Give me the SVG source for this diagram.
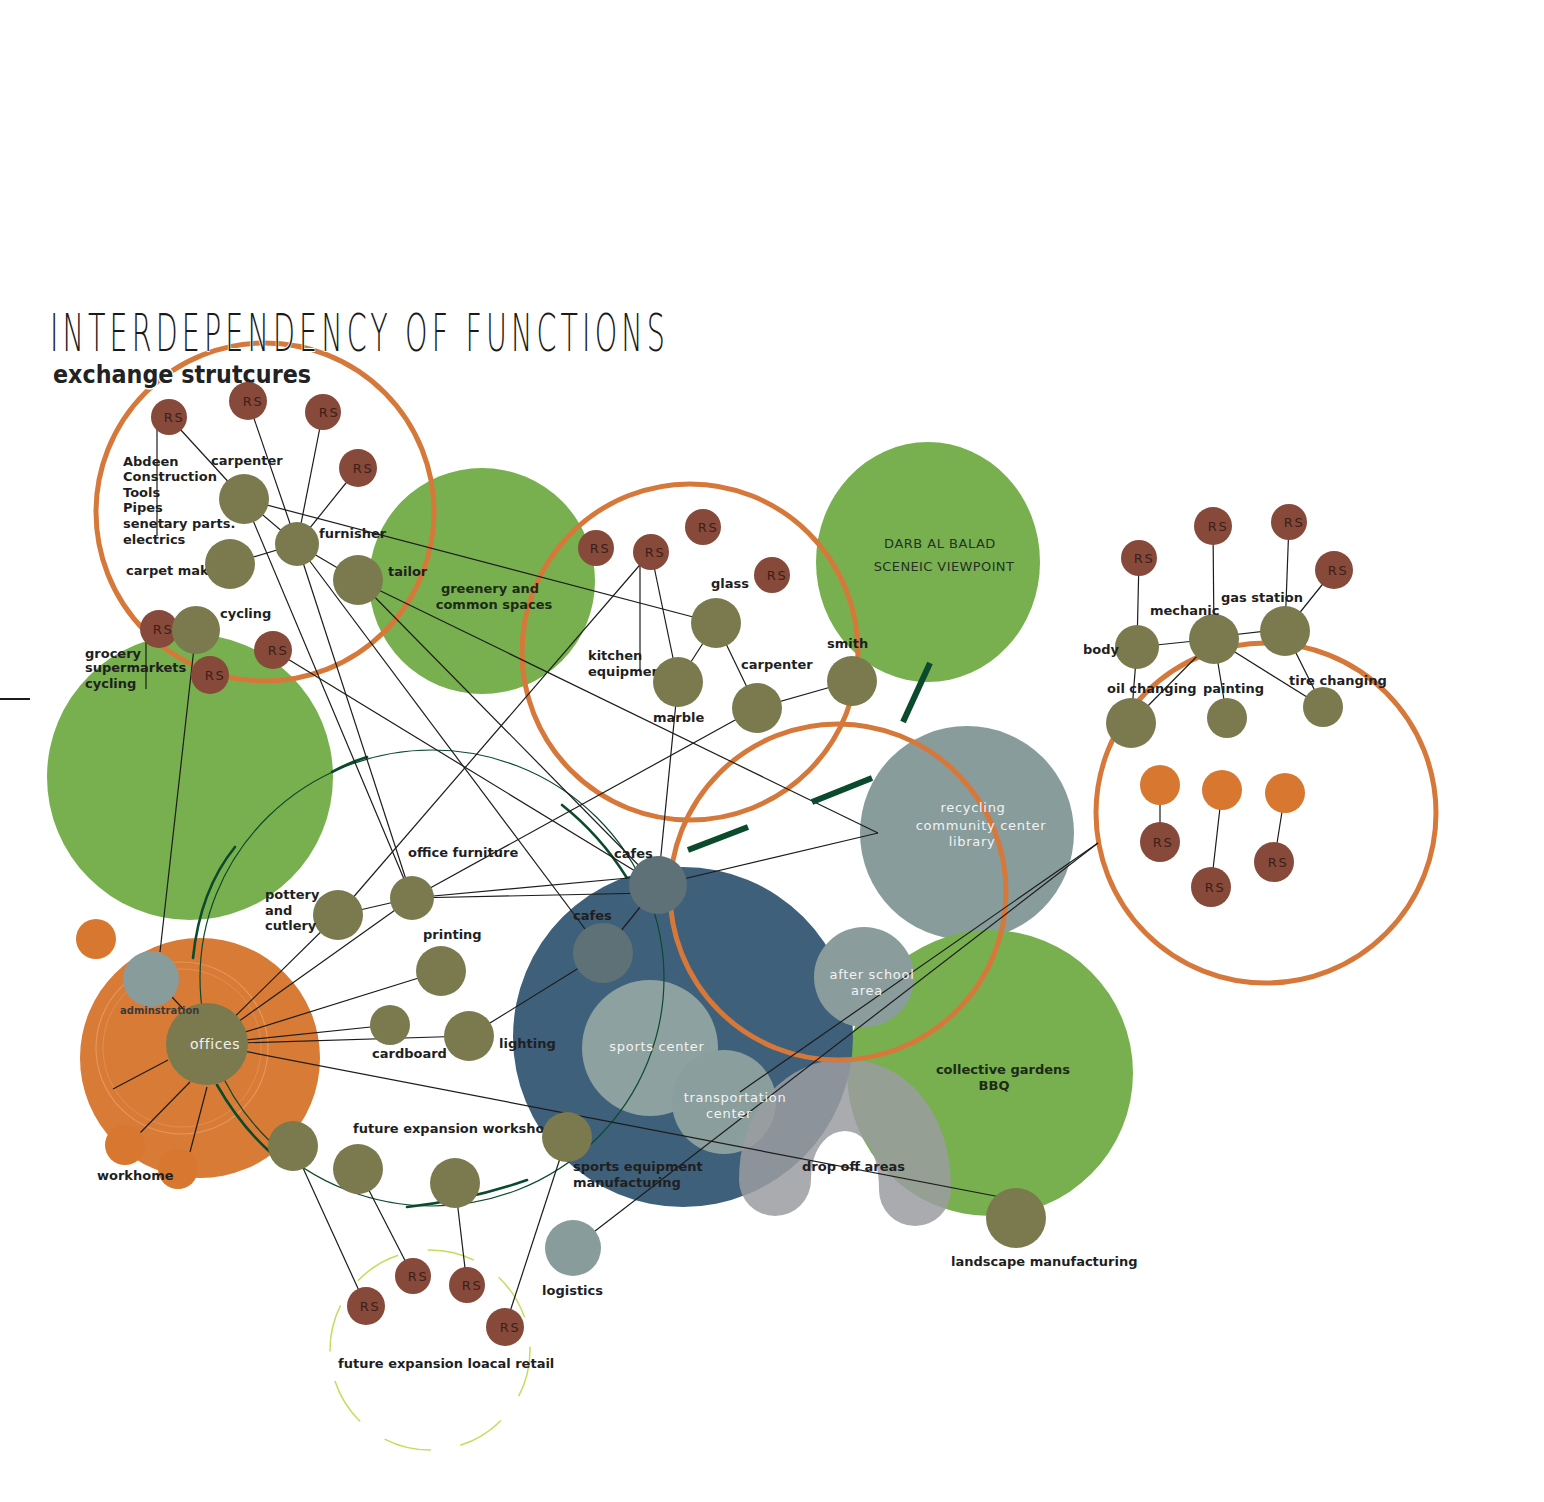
<svg xmlns="http://www.w3.org/2000/svg" width="1544" height="1502" viewBox="0 0 1544 1502">
<defs>
<style>
.olive{fill:#7b7a4f}
.rs{fill:#87493a}
.cafe{fill:#5d7176}
.gry{fill:#889c9b}
.grn{fill:#78b04f}
.org{fill:#d8772f}
.ring{fill:none;stroke:#d7783b;stroke-width:5}
.ln{stroke:#1c1c1c;stroke-width:1.2;fill:none}
.arc{stroke:#0b4a2c;stroke-width:1.2;fill:none}
.arct{stroke:#0b4a2c;stroke-width:2.6;fill:none;stroke-linecap:round}
.dash{stroke:#0b4a2c;stroke-width:6}
.rst{font-family:'DejaVu Sans',sans-serif;font-size:13px;fill:#3d2018;text-anchor:middle;letter-spacing:1.5px}
.lbl{font-family:'DejaVu Sans',sans-serif;font-weight:bold;font-size:13px;fill:#1f1f1f}
.glbl{font-family:'DejaVu Sans',sans-serif;font-weight:bold;font-size:13px;fill:#1c2a18;text-anchor:middle}
.wl{font-family:'DejaVu Sans',sans-serif;font-size:13px;fill:#f2f2f2;text-anchor:middle;letter-spacing:0.7px}
</style>
</defs>
<rect width="1544" height="1502" fill="#ffffff"/>

<!-- large areas -->
<g id="area-green-left"><circle cx="190" cy="777" r="143" class="grn"/></g>
<g id="area-greenery"><circle cx="482" cy="581" r="113" class="grn"/></g>
<g id="area-darb"><ellipse cx="928" cy="562" rx="112" ry="120" class="grn"/></g>
<g id="area-recycling"><circle cx="967" cy="833" r="107" class="gry"/></g>
<g id="area-gardens"><circle cx="990" cy="1073" r="143" class="grn"/></g>
<g id="area-blue"><circle cx="683" cy="1037" r="170" fill="#3f607b"/></g>
<g id="node-afterschool"><circle cx="864" cy="977" r="50" fill="#8a9d9c"/></g>
<g id="node-sports"><circle cx="650" cy="1048" r="68" fill="#8da1a0"/></g>
<g id="node-transport"><circle cx="724" cy="1102" r="52" fill="#8a9e9d"/></g>
<g id="area-dropoff"><path d="M775,1180 C775,1070 915,1060 915,1190" fill="none" stroke="#9a9ca0" stroke-opacity="0.85" stroke-width="72" stroke-linecap="round"/></g>
<g id="area-offices-orange"><circle cx="200" cy="1058" r="120" fill="#d87b36"/>
<circle cx="182" cy="1048" r="86" fill="none" stroke="#eaa26c" stroke-width="1.2" opacity="0.7"/>
<circle cx="182" cy="1048" r="79" fill="none" stroke="#eaa26c" stroke-width="1" opacity="0.5"/></g>
<g id="area-retail-dashed"><circle cx="430" cy="1350" r="100" fill="none" stroke="#c6dc5a" stroke-width="1.5" stroke-dasharray="48 30"/></g>

<!-- rings -->
<g id="rings">
<circle cx="265" cy="512" r="169" class="ring"/>
<circle cx="690" cy="652" r="168" class="ring"/>
<circle cx="838" cy="892" r="168" class="ring"/>
<circle cx="1266" cy="813" r="170" class="ring"/>
</g>

<!-- title (over the ring) -->
<g id="title">
<text transform="translate(50,351) scale(0.56,1)" font-family="'DejaVu Sans',sans-serif" font-weight="200" font-size="51" fill="#1a1a1a" stroke="#ffffff" stroke-width="2" paint-order="stroke" textLength="1098" lengthAdjust="spacing">INTERDEPENDENCY OF FUNCTIONS</text>
<text x="53" y="383" font-family="'DejaVu Sans',sans-serif" font-weight="bold" font-size="24" fill="#222" stroke="#ffffff" stroke-width="3" paint-order="stroke" textLength="258" lengthAdjust="spacingAndGlyphs">exchange strutcures</text>
</g>

<!-- green arcs -->
<g id="arcs">
<ellipse cx="432" cy="978" rx="232" ry="228" class="arc"/>
<path class="arct" d="M193,958 Q200,890 235,847"/>
<path class="arct" d="M332,772 Q348,763 367,757"/>
<path class="arct" d="M562,805 Q600,835 627,878"/>
<path class="arct" d="M217,1085 Q240,1125 270,1152"/>
<path class="arct" d="M407,1207 Q470,1200 527,1180"/>
</g>

<!-- connectors -->
<g id="connectors">
<line class="ln" x1="169" y1="417" x2="244" y2="499"/>
<line class="ln" x1="248" y1="401" x2="297" y2="544"/>
<line class="ln" x1="323" y1="412" x2="297" y2="544"/>
<line class="ln" x1="358" y1="468" x2="297" y2="544"/>
<line class="ln" x1="244" y1="499" x2="297" y2="544"/>
<line class="ln" x1="230" y1="564" x2="297" y2="544"/>
<line class="ln" x1="297" y1="544" x2="358" y2="580"/>
<line class="ln" x1="157" y1="425" x2="157" y2="536"/>
<line class="ln" x1="146" y1="640" x2="146" y2="689"/>
<line class="ln" x1="244" y1="499" x2="716" y2="623"/>
<line class="ln" x1="358" y1="580" x2="878" y2="833"/>
<line class="ln" x1="244" y1="499" x2="412" y2="898"/>
<line class="ln" x1="297" y1="544" x2="412" y2="898"/>
<line class="ln" x1="297" y1="544" x2="603" y2="953"/>
<line class="ln" x1="358" y1="580" x2="658" y2="885"/>
<line class="ln" x1="273" y1="650" x2="658" y2="885"/>
<line class="ln" x1="196" y1="630" x2="160" y2="952"/>
<line class="ln" x1="640" y1="565" x2="640" y2="672"/>
<line class="ln" x1="651" y1="552" x2="678" y2="682"/>
<line class="ln" x1="716" y1="623" x2="678" y2="682"/>
<line class="ln" x1="716" y1="623" x2="757" y2="708"/>
<line class="ln" x1="757" y1="708" x2="852" y2="681"/>
<line class="ln" x1="651" y1="552" x2="338" y2="915"/>
<line class="ln" x1="757" y1="708" x2="412" y2="898"/>
<line class="ln" x1="678" y1="682" x2="658" y2="885"/>
<line class="ln" x1="658" y1="885" x2="878" y2="833"/>
<line class="ln" x1="658" y1="885" x2="603" y2="953"/>
<line class="ln" x1="412" y1="898" x2="650" y2="876"/>
<line class="ln" x1="412" y1="898" x2="650" y2="893"/>
<line class="ln" x1="338" y1="915" x2="412" y2="898"/>
<line class="ln" x1="207" y1="1044" x2="338" y2="915"/>
<line class="ln" x1="207" y1="1044" x2="412" y2="898"/>
<line class="ln" x1="207" y1="1044" x2="441" y2="971"/>
<line class="ln" x1="207" y1="1044" x2="390" y2="1025"/>
<line class="ln" x1="207" y1="1044" x2="469" y2="1036"/>
<line class="ln" x1="469" y1="1036" x2="603" y2="953"/>
<line class="ln" x1="207" y1="1044" x2="1016" y2="1200"/>
<line class="ln" x1="168" y1="1060" x2="113" y2="1089"/>
<line class="ln" x1="190" y1="1082" x2="140" y2="1133"/>
<line class="ln" x1="207" y1="1087" x2="190" y2="1152"/>
<line class="ln" x1="172" y1="997" x2="186" y2="1012"/>
<line class="ln" x1="293" y1="1146" x2="366" y2="1306"/>
<line class="ln" x1="358" y1="1169" x2="413" y2="1276"/>
<line class="ln" x1="455" y1="1183" x2="467" y2="1285"/>
<line class="ln" x1="567" y1="1137" x2="505" y2="1327"/>
<line class="ln" x1="573" y1="1248" x2="1098" y2="843"/>
<line class="ln" x1="740" y1="1092" x2="1098" y2="843"/>
<line class="ln" x1="1139" y1="558" x2="1137" y2="647"/>
<line class="ln" x1="1213" y1="526" x2="1214" y2="639"/>
<line class="ln" x1="1289" y1="522" x2="1285" y2="631"/>
<line class="ln" x1="1334" y1="570" x2="1285" y2="631"/>
<line class="ln" x1="1137" y1="647" x2="1214" y2="639"/>
<line class="ln" x1="1214" y1="637" x2="1285" y2="629"/>
<line class="ln" x1="1137" y1="647" x2="1131" y2="723"/>
<line class="ln" x1="1214" y1="639" x2="1131" y2="723"/>
<line class="ln" x1="1214" y1="639" x2="1227" y2="718"/>
<line class="ln" x1="1214" y1="639" x2="1323" y2="707"/>
<line class="ln" x1="1285" y1="631" x2="1323" y2="707"/>
<line class="ln" x1="1160" y1="785" x2="1160" y2="842"/>
<line class="ln" x1="1222" y1="790" x2="1211" y2="887"/>
<line class="ln" x1="1285" y1="793" x2="1274" y2="862"/>
<line x1="0" y1="699" x2="30" y2="699" stroke="#1c1c1c" stroke-width="2"/>
</g>

<!-- thick green dashes -->
<g id="accents">
<line class="dash" x1="903" y1="722" x2="930" y2="663"/>
<line class="dash" x1="812" y1="802" x2="872" y2="778"/>
<line class="dash" x1="688" y1="850" x2="748" y2="827"/>
</g>

<!-- labels of big areas -->
<g id="labels-areas">
<text class="glbl" x="490" y="593">greenery and</text>
<text class="glbl" x="494" y="609">common spaces</text>
<text x="940" y="548" font-family="'DejaVu Sans',sans-serif" font-size="13" fill="#243226" text-anchor="middle" letter-spacing="0.5">DARB AL BALAD</text>
<text x="944" y="571" font-family="'DejaVu Sans',sans-serif" font-size="13" fill="#243226" text-anchor="middle" letter-spacing="0.4">SCENEIC VIEWPOINT</text>
<text class="wl" x="973" y="812">recycling</text>
<text class="wl" x="981" y="830">community center</text>
<text class="wl" x="972" y="846">library</text>
<text class="glbl" x="1003" y="1074">collective gardens</text>
<text class="glbl" x="994" y="1090">BBQ</text>
<text class="wl" x="872" y="979">after school</text>
<text class="wl" x="867" y="995">area</text>
<text class="wl" x="657" y="1051">sports center</text>
<text class="wl" x="735" y="1102">transportation</text>
<text class="wl" x="729" y="1118">center</text>
<text class="lbl" x="802" y="1171">drop off areas</text>
</g>

<!-- top-left cluster -->
<g id="rs-tl-1"><circle cx="169" cy="417" r="18" class="rs"/><text class="rst" x="174" y="422">RS</text></g>
<g id="rs-tl-2"><circle cx="248" cy="401" r="19" class="rs"/><text class="rst" x="253" y="406">RS</text></g>
<g id="rs-tl-3"><circle cx="323" cy="412" r="18" class="rs"/><text class="rst" x="329" y="417">RS</text></g>
<g id="rs-tl-4"><circle cx="358" cy="468" r="19" class="rs"/><text class="rst" x="363" y="473">RS</text></g>
<g id="node-carpenter"><circle cx="244" cy="499" r="25" class="olive"/><text class="lbl" x="211" y="465">carpenter</text></g>
<g id="node-abdeen"><text class="lbl" x="123" y="466">Abdeen</text><text class="lbl" x="123" y="481">Construction</text><text class="lbl" x="123" y="497">Tools</text><text class="lbl" x="123" y="512">Pipes</text><text class="lbl" x="123" y="528">senetary parts.</text><text class="lbl" x="123" y="544">electrics</text></g>
<g id="node-furnisher"><circle cx="297" cy="544" r="22" class="olive"/><text class="lbl" x="319" y="538">furnisher</text></g>
<g id="node-carpet"><text class="lbl" x="126" y="575">carpet mak</text><circle cx="230" cy="564" r="25" class="olive"/></g>
<g id="node-tailor"><circle cx="358" cy="580" r="25" class="olive"/><text class="lbl" x="388" y="576">tailor</text></g>
<g id="rs-tl-5"><circle cx="159" cy="629" r="19" class="rs"/><text class="rst" x="163" y="634">RS</text></g>
<g id="node-cycling"><circle cx="196" cy="630" r="24" class="olive"/><text class="lbl" x="220" y="618">cycling</text></g>
<g id="rs-tl-6"><circle cx="210" cy="675" r="19" class="rs"/><text class="rst" x="215" y="680">RS</text></g>
<g id="rs-tl-7"><circle cx="273" cy="650" r="19" class="rs"/><text class="rst" x="278" y="655">RS</text></g>
<g id="node-grocery"><text class="lbl" x="85" y="658">grocery</text><text class="lbl" x="85" y="672">supermarkets</text><text class="lbl" x="85" y="688">cycling</text></g>

<!-- middle cluster -->
<g id="rs-m-1"><circle cx="596" cy="548" r="18" class="rs"/><text class="rst" x="600" y="553">RS</text></g>
<g id="rs-m-2"><circle cx="651" cy="552" r="18" class="rs"/><text class="rst" x="655" y="557">RS</text></g>
<g id="rs-m-3"><circle cx="703" cy="527" r="18" class="rs"/><text class="rst" x="708" y="532">RS</text></g>
<g id="rs-m-4"><circle cx="772" cy="575" r="18" class="rs"/><text class="rst" x="777" y="580">RS</text></g>
<g id="node-glass"><circle cx="716" cy="623" r="25" class="olive"/><text class="lbl" x="711" y="588">glass</text></g>
<g id="node-kitchen"><text class="lbl" x="588" y="660">kitchen</text><text class="lbl" x="588" y="676">equipmen</text></g>
<g id="node-marble"><circle cx="678" cy="682" r="25" class="olive"/><text class="lbl" x="653" y="722">marble</text></g>
<g id="node-carpenter2"><circle cx="757" cy="708" r="25" class="olive"/><text class="lbl" x="741" y="669">carpenter</text></g>
<g id="node-smith"><circle cx="852" cy="681" r="25" class="olive"/><text class="lbl" x="827" y="648">smith</text></g>

<!-- right cluster -->
<g id="rs-r-1"><circle cx="1139" cy="558" r="18" class="rs"/><text class="rst" x="1144" y="563">RS</text></g>
<g id="rs-r-2"><circle cx="1213" cy="526" r="19" class="rs"/><text class="rst" x="1218" y="531">RS</text></g>
<g id="rs-r-3"><circle cx="1289" cy="522" r="18" class="rs"/><text class="rst" x="1294" y="527">RS</text></g>
<g id="rs-r-4"><circle cx="1334" cy="570" r="19" class="rs"/><text class="rst" x="1338" y="575">RS</text></g>
<g id="node-body"><circle cx="1137" cy="647" r="22" class="olive"/><text class="lbl" x="1083" y="654">body</text></g>
<g id="node-mechanic"><circle cx="1214" cy="639" r="25" class="olive"/><text class="lbl" x="1150" y="615">mechanic</text></g>
<g id="node-gas"><circle cx="1285" cy="631" r="25" class="olive"/><text class="lbl" x="1221" y="602">gas station</text></g>
<g id="node-oil"><circle cx="1131" cy="723" r="25" class="olive"/><text class="lbl" x="1107" y="693">oil changing</text></g>
<g id="node-painting"><circle cx="1227" cy="718" r="20" class="olive"/><text class="lbl" x="1203" y="693">painting</text></g>
<g id="node-tire"><circle cx="1323" cy="707" r="20" class="olive"/><text class="lbl" x="1289" y="685">tire changing</text></g>
<g id="node-or-1"><circle cx="1160" cy="785" r="20" class="org"/></g>
<g id="node-or-2"><circle cx="1222" cy="790" r="20" class="org"/></g>
<g id="node-or-3"><circle cx="1285" cy="793" r="20" class="org"/></g>
<g id="rs-r-5"><circle cx="1160" cy="842" r="20" class="rs"/><text class="rst" x="1163" y="847">RS</text></g>
<g id="rs-r-6"><circle cx="1211" cy="887" r="20" class="rs"/><text class="rst" x="1215" y="892">RS</text></g>
<g id="rs-r-7"><circle cx="1274" cy="862" r="20" class="rs"/><text class="rst" x="1278" y="867">RS</text></g>

<!-- center nodes -->
<g id="node-cafes"><circle cx="658" cy="885" r="29" class="cafe"/><text class="lbl" x="614" y="858">cafes</text></g>
<g id="node-cafes2"><circle cx="603" cy="953" r="30" class="cafe"/><text class="lbl" x="573" y="920">cafes</text></g>
<g id="node-officefurniture"><circle cx="412" cy="898" r="22" class="olive"/><text class="lbl" x="408" y="857">office furniture</text></g>
<g id="node-pottery"><circle cx="338" cy="915" r="25" class="olive"/><text class="lbl" x="265" y="899">pottery</text><text class="lbl" x="265" y="915">and</text><text class="lbl" x="265" y="930">cutlery</text></g>
<g id="node-printing"><circle cx="441" cy="971" r="25" class="olive"/><text class="lbl" x="423" y="939">printing</text></g>
<g id="node-cardboard"><circle cx="390" cy="1025" r="20" class="olive"/><text class="lbl" x="372" y="1058">cardboard</text></g>
<g id="node-lighting"><circle cx="469" cy="1036" r="25" class="olive"/><text class="lbl" x="499" y="1048">lighting</text></g>

<!-- left offices cluster -->
<g id="node-or-left"><circle cx="96" cy="939" r="20" class="org"/></g>
<g id="node-admin"><circle cx="151" cy="979" r="28" fill="#889c9b"/></g>
<g id="node-offices"><circle cx="207" cy="1044" r="41" class="olive"/><text x="215" y="1049" font-family="'DejaVu Sans',sans-serif" font-size="14" fill="#f0f0f0" text-anchor="middle" letter-spacing="0.6">offices</text></g>
<g id="label-admin"><text x="120" y="1014" font-family="'DejaVu Sans',sans-serif" font-weight="bold" font-size="10" fill="#3a3a3a">adminstration</text></g>
<g id="node-workhome"><circle cx="125" cy="1145" r="20" class="org"/><circle cx="178" cy="1169" r="20" class="org"/><text class="lbl" x="97" y="1180">workhome</text></g>

<!-- bottom cluster -->
<g id="node-ws-1"><circle cx="293" cy="1146" r="25" class="olive"/></g>
<g id="node-ws-2"><circle cx="358" cy="1169" r="25" class="olive"/></g>
<g id="node-ws-3"><circle cx="455" cy="1183" r="25" class="olive"/></g>
<g id="label-workshop"><text class="lbl" x="353" y="1133">future expansion worksho</text></g>
<g id="node-sportseq"><circle cx="567" cy="1137" r="25" class="olive"/><text class="lbl" x="573" y="1171">sports equipment</text><text class="lbl" x="573" y="1187">manufacturing</text></g>
<g id="rs-b-1"><circle cx="366" cy="1306" r="19" class="rs"/><text class="rst" x="370" y="1311">RS</text></g>
<g id="rs-b-2"><circle cx="413" cy="1276" r="18" class="rs"/><text class="rst" x="418" y="1281">RS</text></g>
<g id="rs-b-3"><circle cx="467" cy="1285" r="18" class="rs"/><text class="rst" x="472" y="1290">RS</text></g>
<g id="rs-b-4"><circle cx="505" cy="1327" r="19" class="rs"/><text class="rst" x="510" y="1332">RS</text></g>
<g id="label-retail"><text class="lbl" x="338" y="1368">future expansion loacal retail</text></g>
<g id="node-logistics"><circle cx="573" cy="1248" r="28" fill="#889c9b"/><text class="lbl" x="542" y="1295">logistics</text></g>
<g id="node-landscape"><circle cx="1016" cy="1218" r="30" class="olive"/><text class="lbl" x="951" y="1266">landscape manufacturing</text></g>
</svg>
